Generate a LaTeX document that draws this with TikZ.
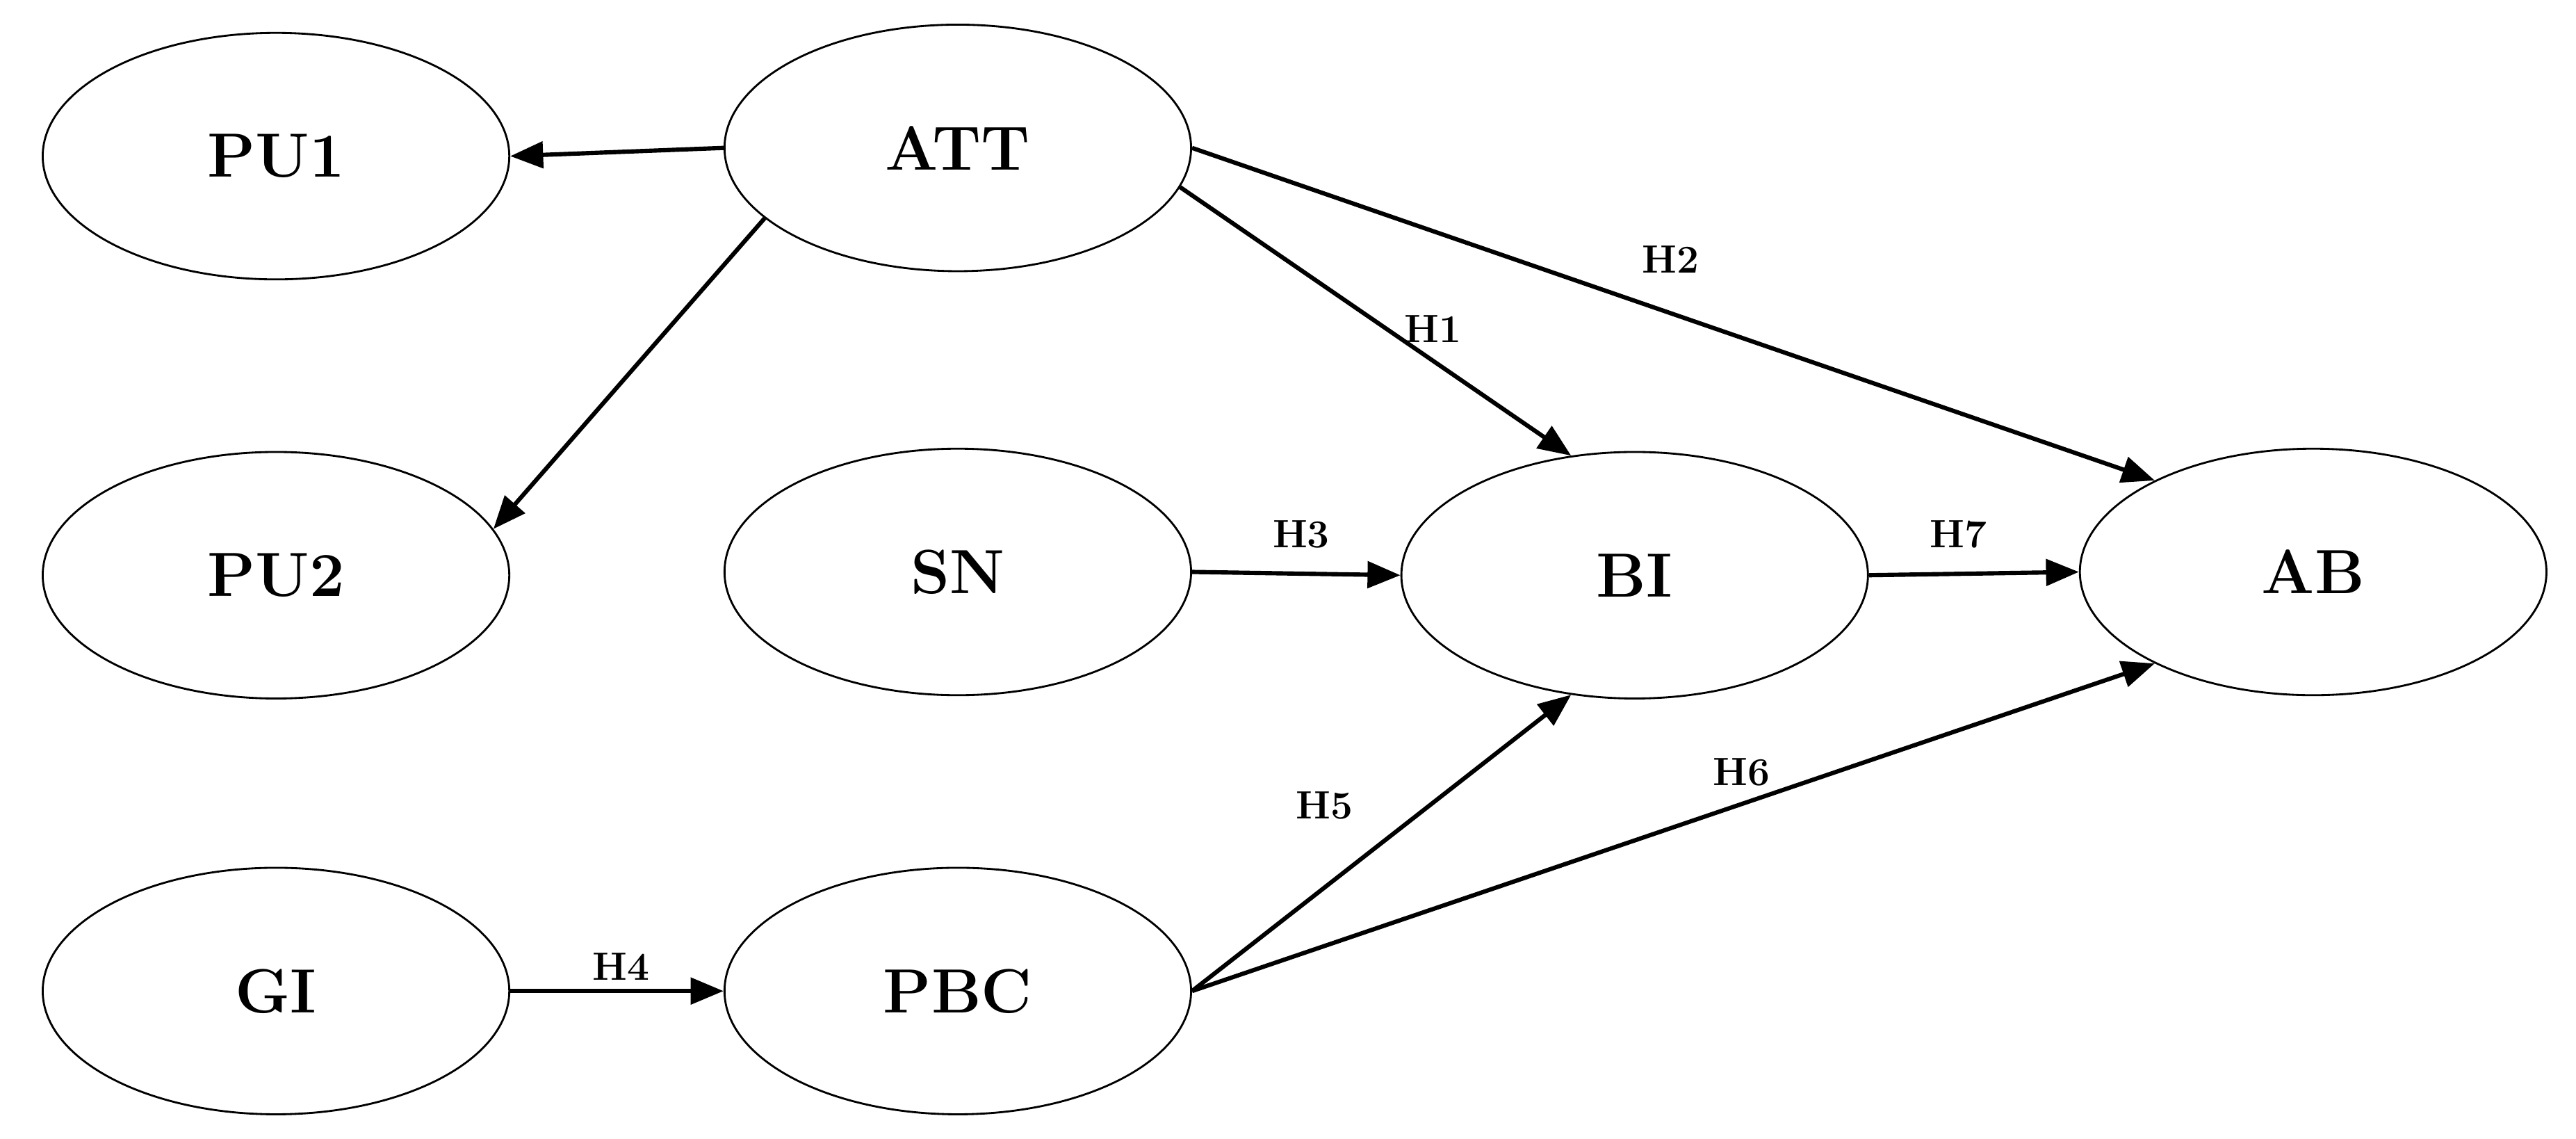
\documentclass[tikz,border=0pt]{standalone}
\usetikzlibrary{arrows.meta,shapes.geometric}
\begin{document}
\begin{tikzpicture}[x=1pt,y=-1pt,
  ell/.style={draw,line width=1.2pt,ellipse,minimum width=284pt,minimum height=150pt,font=\fontsize{38}{40}\selectfont\bfseries},
  arr/.style={line width=2.6pt,-{Triangle[length=20pt,width=16pt]}},
  lab/.style={font=\fontsize{24}{26}\selectfont\bfseries}]
\useasboundingbox (0,0) rectangle (1568,693);
\node[ell] (PU1) at (168,95) {PU1};
\node[ell] (ATT) at (583,90) {ATT};
\node[ell] (PU2) at (168,350) {PU2};
\node[ell] (SN) at (583,348) {SN};
\node[ell] (BI) at (995,350) {BI};
\node[ell] (AB) at (1408,348) {AB};
\node[ell] (GI) at (168,603) {GI};
\node[ell] (PBC) at (583,603) {PBC};
\draw[arr] (ATT.west) -- (PU1.east);
\draw[arr] (ATT.200) -- (PU2.12);
\draw[arr] (ATT.-10) -- (BI.118);
\draw[arr] (ATT.east) -- (AB.150);
\draw[arr] (SN.east) -- (BI.west);
\draw[arr] (BI.east) -- (AB.west);
\draw[arr] (PBC.east) -- (BI.-118);
\draw[arr] (PBC.east) -- (AB.-150);
\draw[arr] (GI.east) -- (PBC.west);
\node[lab] (h1) at (872,200) {H1};
\node[lab] (h2) at (1017,158) {H2};
\node[lab] (h3) at (792,325) {H3};
\node[lab] (h4) at (378,588) {H4};
\node[lab] (h5) at (806,490) {H5};
\node[lab] (h6) at (1060,470) {H6};
\node[lab] (h7) at (1192,325) {H7};
\end{tikzpicture}
\end{document}
